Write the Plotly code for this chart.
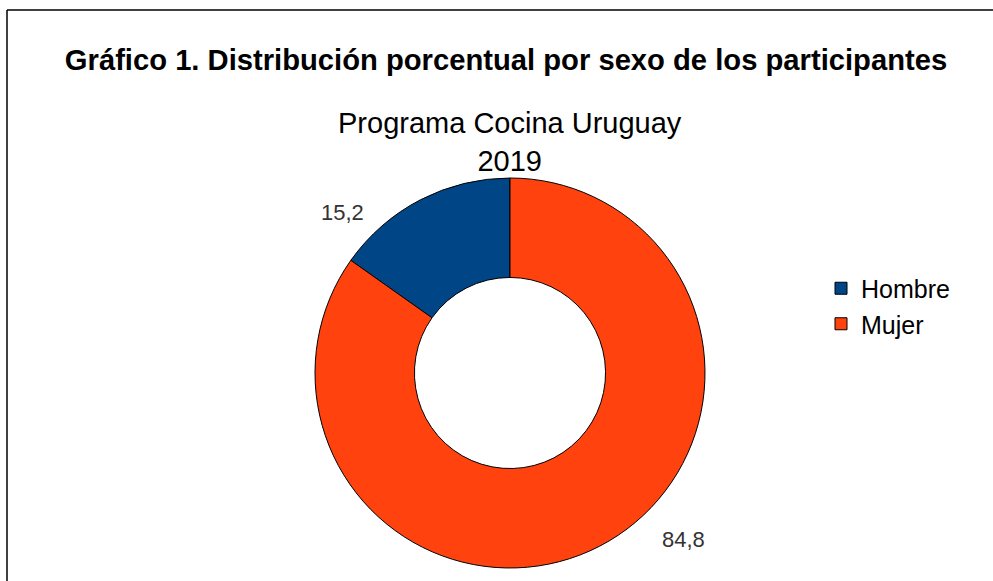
import plotly.graph_objects as go

# Data
categories = ["Hombre", "Mujer"]
values = [15.2, 84.8]
colors = ["#004586", "#ff420e"]

title_text = "<b>Gráfico 1. Distribución porcentual por sexo de los participantes</b>"
subtitle_text = "Programa Cocina Uruguay<br>2019"

W, H = 993, 581
FONT = "Liberation Sans, Arial, sans-serif"

def px(x):
    return x / W

def py(y):
    return 1 - y / H

# first slice ends at 12 o'clock (drawn clockwise from its start)
start_angle = -360.0 * values[0] / sum(values)

fig = go.Figure()
fig.add_trace(go.Pie(
    labels=categories,
    values=values,
    hole=0.49,
    sort=False,
    direction="clockwise",
    rotation=start_angle,
    marker=dict(colors=colors, line=dict(color="#000000", width=1)),
    textinfo="none",
    hoverinfo="label+value",
    domain=dict(x=[px(315), px(705)], y=[1 - 568 / H, 1 - 178 / H]),
))

# value labels (text from data)
label_pos = [(342, 212), (683, 539)]
annotations = []
for v, (lx, ly) in zip(values, label_pos):
    annotations.append(dict(
        x=px(lx), y=py(ly), xref="paper", yref="paper",
        text=f"{v:.1f}".replace(".", ","), showarrow=False,
        font=dict(family=FONT, size=22, color="#333333"),
        xanchor="center", yanchor="middle",
    ))
annotations.append(dict(
    x=px(510), y=py(142), xref="paper", yref="paper",
    text=subtitle_text, showarrow=False,
    font=dict(family=FONT, size=29, color="#000000"),
    xanchor="center", yanchor="middle", align="center",
))

fig.update_layout(
    width=W, height=H,
    margin=dict(l=0, r=0, t=0, b=0),
    paper_bgcolor="#ffffff",
    plot_bgcolor="#ffffff",
    title=dict(text=title_text, x=px(506), y=py(60), xanchor="center", yanchor="middle",
               font=dict(family=FONT, size=29.2, color="#000000")),
    legend=dict(x=px(821), y=py(306), xanchor="left", yanchor="middle",
                font=dict(family=FONT, size=25, color="#000000"),
                bgcolor="rgba(0,0,0,0)"),
    annotations=annotations,
    shapes=[
        dict(type="line", xref="paper", yref="paper", x0=px(7), x1=px(7), y0=0, y1=py(10),
             line=dict(color="#000000", width=1.5)),
        dict(type="line", xref="paper", yref="paper", x0=px(7), x1=1, y0=py(10), y1=py(10),
             line=dict(color="#000000", width=1.5)),
    ],
)

fig.write_html("out.html", config={"displayModeBar": False},
               post_script="document.body.style.margin='0';")
